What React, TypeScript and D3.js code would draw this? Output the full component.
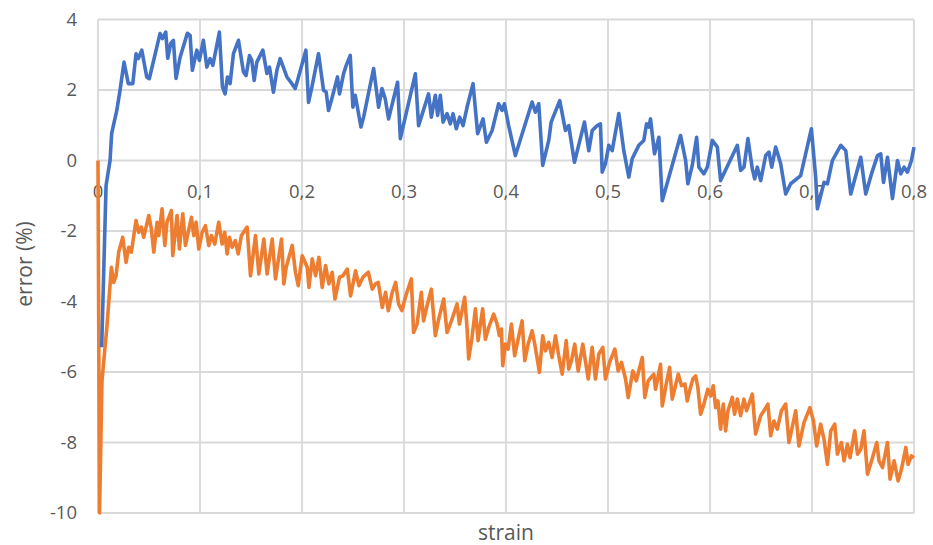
import React from "react";
import * as d3 from "d3";

const xTicks = [0, 0.1, 0.2, 0.3, 0.4, 0.5, 0.6, 0.7, 0.8];
const xTickLabels = ["0", "0,1", "0,2", "0,3", "0,4", "0,5", "0,6", "0,7", "0,8"];
const yTicks = [4, 2, 0, -2, -4, -6, -8, -10];
const yTickLabels = ["4", "2", "0", "-2", "-4", "-6", "-8", "-10"];

const blueStrain = [
  0.0036, 0.0079, 0.0118, 0.0134, 0.0184, 0.0216, 0.0255, 0.0297, 0.0341, 0.0373,
  0.0395, 0.0429, 0.0478, 0.0503, 0.0608, 0.0631, 0.0664, 0.0684, 0.0713, 0.0739,
  0.0765, 0.0805, 0.0876, 0.0903, 0.0925, 0.0969, 0.0994, 0.1033, 0.1067, 0.1099,
  0.1126, 0.119, 0.122, 0.1246, 0.1269, 0.1295, 0.1328, 0.1377, 0.1426, 0.1452,
  0.1485, 0.1508, 0.1531, 0.1557, 0.1616, 0.1656, 0.1681, 0.172, 0.1754, 0.1786,
  0.1852, 0.1901, 0.1933, 0.1956, 0.2038, 0.2064, 0.2097, 0.2162, 0.2211, 0.2237,
  0.226, 0.2293, 0.2348, 0.2368, 0.2407, 0.2434, 0.2473, 0.2499, 0.2522, 0.2578,
  0.2604, 0.2702, 0.2751, 0.2784, 0.2816, 0.2849, 0.2937, 0.2964, 0.3111, 0.3143,
  0.3241, 0.3268, 0.3307, 0.333, 0.3356, 0.3383, 0.3422, 0.3454, 0.3481, 0.3513,
  0.3546, 0.3579, 0.3618, 0.3677, 0.3722, 0.3775, 0.3808, 0.3864, 0.3928, 0.3962,
  0.3984, 0.4026, 0.4092, 0.4256, 0.4288, 0.4321, 0.436, 0.4419, 0.4443, 0.4527,
  0.4583, 0.4615, 0.4671, 0.4769, 0.4812, 0.4845, 0.4894, 0.4926, 0.4943, 0.4975,
  0.5008, 0.5041, 0.5106, 0.5155, 0.5204, 0.5237, 0.5302, 0.5351, 0.5378, 0.54,
  0.5417, 0.5456, 0.5499, 0.5532, 0.5711, 0.5761, 0.5783, 0.5826, 0.5869, 0.5891,
  0.594, 0.5974, 0.6023, 0.6072, 0.6104, 0.6268, 0.63, 0.6333, 0.6372, 0.6415,
  0.6438, 0.6464, 0.6497, 0.6546, 0.6578, 0.6605, 0.6644, 0.6693, 0.6742, 0.6791,
  0.6889, 0.6994, 0.7036, 0.7053, 0.7118, 0.7151, 0.72, 0.7282, 0.7331, 0.738,
  0.7478, 0.7527, 0.7583, 0.7642, 0.7674, 0.7701, 0.774, 0.7789, 0.7838, 0.787,
  0.7903, 0.7936, 0.7975, 0.8,
];
const blueError = [
  -5.3, -0.71, 0.0, 0.77, 1.42, 1.99, 2.79, 2.18, 2.18, 3.03,
  2.89, 3.13, 2.37, 2.32, 3.6, 3.46, 3.64, 2.9, 3.32, 3.41,
  2.33, 2.93, 3.61, 3.55, 2.56, 3.13, 2.84, 3.41, 2.65, 2.89,
  2.7, 3.64, 2.08, 1.89, 2.37, 2.18, 3.03, 3.41, 2.51, 2.41,
  2.98, 2.84, 2.27, 2.79, 3.13, 2.47, 2.65, 1.94, 2.56, 2.89,
  2.37, 2.18, 2.04, 2.27, 3.13, 1.65, 2.08, 3.03, 1.99, 1.94,
  1.42, 1.76, 2.37, 1.89, 2.46, 2.7, 2.98, 1.51, 1.85, 0.95,
  1.23, 2.61, 1.51, 2.04, 1.75, 1.18, 2.22, 0.62, 2.46, 0.99,
  1.89, 1.23, 1.85, 1.28, 1.85, 1.09, 1.33, 1.04, 1.33, 0.9,
  1.23, 0.99, 1.51, 2.18, 0.76, 1.18, 0.52, 0.85, 1.61, 1.42,
  1.61, 0.99, 0.14, 1.66, 1.37, 1.61, -0.14, 0.57, 1.09, 1.7,
  0.85, 0.99, -0.05, 1.09, 0.28, 0.85, 0.99, 1.04, -0.33, -0.09,
  0.43, 0.28, 1.33, 0.28, -0.47, 0.05, 0.43, 0.57, 1.04, 0.95,
  1.18, 0.19, 0.66, -1.14, 0.71, 0.0, -0.66, -0.14, 0.66, -0.19,
  -0.38, -0.19, 0.57, 0.38, -0.57, 0.43, -0.28, -0.19, 0.62, -0.24,
  -0.52, -0.19, -0.57, 0.14, 0.24, -0.19, 0.38, -0.09, -0.95, -0.66,
  -0.43, 0.9, -0.47, -1.37, -0.62, -0.66, 0.0, 0.43, 0.28, -0.95,
  0.09, -0.95, -0.38, 0.14, 0.19, -0.62, 0.09, -1.08, 0.0, -0.38,
  -0.19, -0.33, 0.0, 0.38,
];

const orangeStrain = [
  0, 0.0015, 0.0039, 0.0088, 0.0131, 0.0154, 0.0177, 0.0203, 0.0242, 0.0275,
  0.0301, 0.0327, 0.0373, 0.0399, 0.0425, 0.0448, 0.0498, 0.0523, 0.0547, 0.0579,
  0.0596, 0.0628, 0.0655, 0.0677, 0.0719, 0.0733, 0.0775, 0.0798, 0.0831, 0.0857,
  0.0916, 0.0939, 0.0962, 0.0988, 0.1021, 0.1053, 0.1086, 0.1112, 0.1145, 0.1184,
  0.1217, 0.1243, 0.1266, 0.1289, 0.1315, 0.1347, 0.1374, 0.1406, 0.1462, 0.1495,
  0.1544, 0.1577, 0.1626, 0.1658, 0.1708, 0.174, 0.1799, 0.1822, 0.1845, 0.1904,
  0.1936, 0.1963, 0.2002, 0.2051, 0.2068, 0.21, 0.2133, 0.2166, 0.2198, 0.2231,
  0.2264, 0.2296, 0.2323, 0.2368, 0.2401, 0.2444, 0.2476, 0.2525, 0.2558, 0.2598,
  0.265, 0.2689, 0.2721, 0.2748, 0.2787, 0.2819, 0.2846, 0.2885, 0.2918, 0.2947,
  0.298, 0.3013, 0.3072, 0.3094, 0.3128, 0.317, 0.3192, 0.3226, 0.3268, 0.3307,
  0.334, 0.3389, 0.3422, 0.3471, 0.352, 0.3543, 0.3595, 0.3618, 0.3634, 0.3667,
  0.37, 0.3726, 0.3771, 0.3798, 0.383, 0.3879, 0.3913, 0.3935, 0.3955, 0.3968,
  0.3994, 0.4021, 0.4053, 0.4085, 0.4119, 0.4158, 0.4184, 0.4217, 0.4256, 0.4282,
  0.4328, 0.436, 0.4387, 0.4419, 0.4452, 0.4485, 0.4517, 0.4551, 0.459, 0.4615,
  0.4642, 0.4674, 0.4708, 0.4753, 0.4806, 0.4845, 0.4877, 0.491, 0.4949, 0.4975,
  0.5015, 0.5067, 0.51, 0.5132, 0.5172, 0.5198, 0.5243, 0.5277, 0.5336, 0.5361,
  0.5394, 0.5449, 0.5466, 0.5515, 0.5532, 0.5571, 0.5604, 0.563, 0.5689, 0.5721,
  0.5754, 0.5777, 0.58, 0.5832, 0.5859, 0.5881, 0.5908, 0.594, 0.5979, 0.6006,
  0.6032, 0.6055, 0.6078, 0.6104, 0.613, 0.6153, 0.6176, 0.6219, 0.6241, 0.6268,
  0.63, 0.6333, 0.6359, 0.6415, 0.6447, 0.6497, 0.6529, 0.6568, 0.6595, 0.6627,
  0.666, 0.67, 0.6742, 0.6774, 0.684, 0.6872, 0.6922, 0.698, 0.7014, 0.7046,
  0.7085, 0.7118, 0.7151, 0.7184, 0.7223, 0.7249, 0.7288, 0.7314, 0.7347, 0.7373,
  0.7419, 0.7446, 0.7478, 0.751, 0.7544, 0.7593, 0.7635, 0.7657, 0.7691, 0.774,
  0.7765, 0.7805, 0.7844, 0.7877, 0.792, 0.7942, 0.7975, 0.8,
];
const orangeError = [
  0.0, -10.0, -6.25, -4.69, -3.03, -3.46, -3.27, -2.6, -2.18, -2.89,
  -2.46, -2.6, -1.7, -2.04, -1.89, -2.18, -1.56, -1.94, -2.6, -1.75,
  -2.13, -1.37, -2.41, -1.75, -1.42, -2.7, -1.56, -2.51, -1.51, -2.41,
  -1.61, -2.13, -1.75, -2.51, -2.04, -1.85, -2.41, -2.13, -2.37, -1.75,
  -2.37, -2.04, -2.65, -2.18, -2.46, -2.27, -2.65, -2.13, -1.89, -3.27,
  -2.13, -3.22, -2.23, -3.22, -2.23, -3.36, -2.23, -3.5, -3.03, -2.41,
  -3.17, -3.55, -2.7, -3.03, -3.6, -2.79, -3.27, -2.75, -3.6, -2.98,
  -3.5, -3.17, -3.93, -3.31, -3.27, -3.08, -3.84, -3.13, -3.55, -3.31,
  -3.17, -3.65, -3.5, -3.46, -4.17, -3.74, -4.26, -3.74, -3.46, -4.07,
  -4.26, -3.88, -3.36, -4.88, -4.64, -3.74, -4.55, -4.12, -3.65, -4.97,
  -4.5, -3.93, -4.88, -4.5, -4.07, -4.64, -3.88, -4.74, -5.63, -5.02,
  -4.21, -5.11, -4.21, -5.07, -4.74, -4.36, -4.64, -4.97, -4.78, -5.82,
  -5.21, -5.35, -4.64, -5.54, -5.07, -4.55, -5.68, -5.21, -4.83, -5.21,
  -6.01, -4.97, -5.4, -5.16, -5.59, -4.97, -5.54, -6.06, -5.11, -5.92,
  -5.68, -5.21, -5.97, -5.21, -6.2, -5.3, -6.2, -5.49, -5.3, -6.2,
  -5.73, -5.35, -5.97, -5.73, -6.2, -6.72, -5.97, -6.25, -5.59, -6.72,
  -6.25, -6.06, -6.49, -5.78, -6.96, -6.34, -5.87, -6.77, -6.06, -6.39,
  -6.34, -6.82, -6.53, -6.2, -6.11, -6.44, -7.2, -6.91, -6.49, -6.68,
  -6.39, -7.01, -6.82, -7.62, -6.91, -7.67, -7.1, -6.72, -7.2, -6.77,
  -7.24, -6.77, -7.1, -6.63, -7.76, -7.24, -7.1, -6.91, -7.81, -7.39,
  -7.62, -7.1, -6.91, -8.0, -7.1, -8.1, -7.43, -7.01, -7.39, -8.1,
  -7.48, -7.91, -8.62, -7.67, -7.48, -8.33, -8.0, -8.52, -8.05, -8.43,
  -7.67, -8.33, -8.19, -7.67, -8.9, -8.43, -8.0, -8.52, -8.71, -8.0,
  -9.04, -8.52, -9.09, -8.76, -8.14, -8.62, -8.38, -8.43,
];

const W = 933;
const H = 545;
const left = 98;
const right = 914;
const top = 19.5;
const bottom = 513;

export default function App() {
  const x = d3.scaleLinear().domain([0, 0.8]).range([left, right]);
  const y = d3.scaleLinear().domain([-10, 4]).range([bottom, top]);

  const line = d3
    .line<[number, number]>()
    .x((d) => x(d[0]))
    .y((d) => y(d[1]));

  const blue: [number, number][] = blueStrain.map((s, i) => [s, blueError[i]]);
  const orange: [number, number][] = orangeStrain.map((s, i) => [s, orangeError[i]]);

  const font = "'Open Sans', sans-serif";
  const textColor = "#595959";

  return (
    <svg
      width={W}
      height={H}
      style={{ position: "absolute", left: 0, top: 0, background: "#fff" }}
    >
      <g>
        {xTicks.map((t) => (
          <line
            key={"gx" + t}
            x1={x(t)}
            x2={x(t)}
            y1={y(4)}
            y2={y(-10)}
            stroke="#D9D9D9"
            strokeWidth={1.8}
          />
        ))}
        {yTicks.map((t) => (
          <line
            key={"gy" + t}
            x1={x(0)}
            x2={x(0.8)}
            y1={y(t)}
            y2={y(t)}
            stroke="#D9D9D9"
            strokeWidth={1.8}
          />
        ))}
      </g>
      <g fontFamily={font} fontSize={18.5} fill={textColor}>
        {yTicks.map((t, i) => (
          <text key={"ly" + t} x={77} y={y(t)} dy="0.35em" textAnchor="end">
            {yTickLabels[i]}
          </text>
        ))}
        {xTicks.map((t, i) => (
          <text key={"lx" + t} x={x(t)} y={y(0)} dy={37} textAnchor="middle">
            {xTickLabels[i]}
          </text>
        ))}
      </g>
      <path
        d={line(orange) || ""}
        fill="none"
        stroke="#ED7D31"
        strokeWidth={3.6}
        strokeLinejoin="round"
      />
      <path
        d={line(blue) || ""}
        fill="none"
        stroke="#4472C4"
        strokeWidth={3.6}
        strokeLinejoin="round"
      />
      <text
        x={506}
        y={540}
        textAnchor="middle"
        fontFamily={font}
        fontSize={21}
        fill={textColor}
      >
        strain
      </text>
      <text
        transform={`translate(32, 264) rotate(-90)`}
        textAnchor="middle"
        fontFamily={font}
        fontSize={21}
        fill={textColor}
      >
        error (%)
      </text>
    </svg>
  );
}
